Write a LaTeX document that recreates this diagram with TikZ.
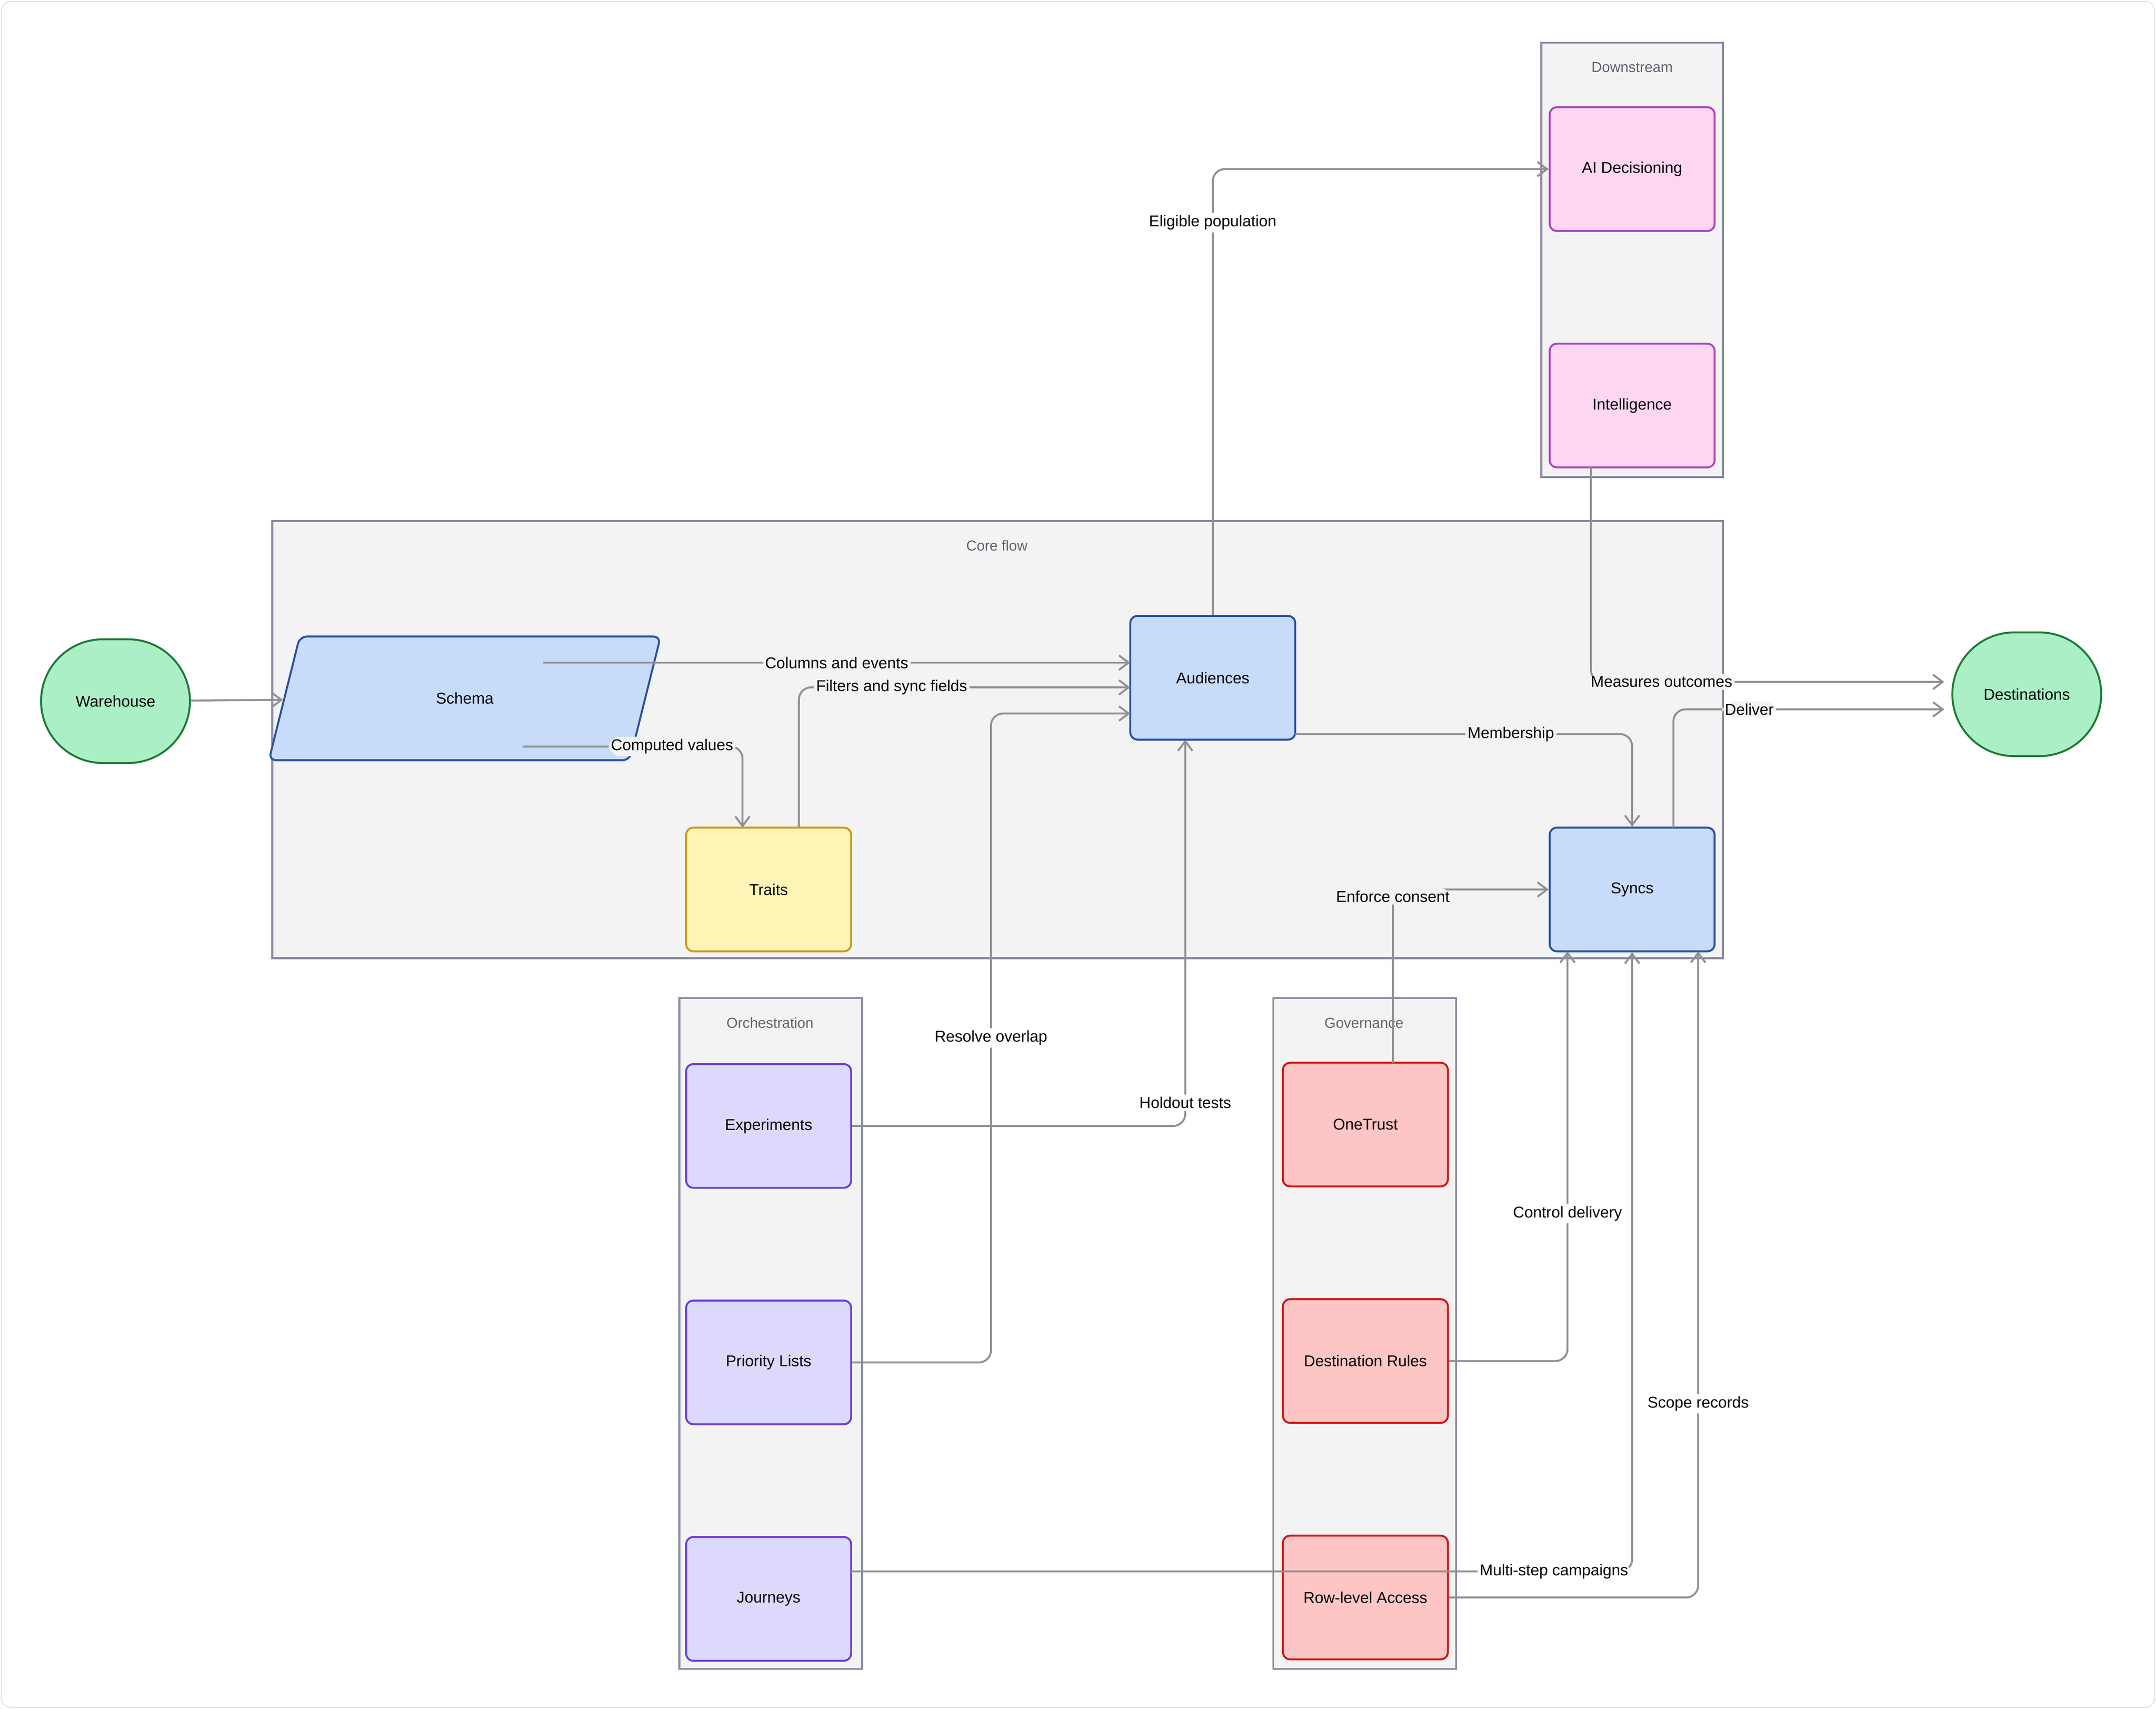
\documentclass[tikz,border=0pt]{standalone}
\usepackage{fontspec}
\setmainfont{Liberation Sans}
\usepackage{xcolor}
\definecolor{gr1}{HTML}{ABEFC6}
\definecolor{gr2}{HTML}{1E7A34}
\definecolor{bl1}{HTML}{C7DCFB}
\definecolor{bl2}{HTML}{2A4FA0}
\definecolor{ye1}{HTML}{FFF4B5}
\definecolor{ye2}{HTML}{C49A1A}
\definecolor{pk1}{HTML}{FDD7F1}
\definecolor{pk2}{HTML}{B044C0}
\definecolor{lv1}{HTML}{DDD9FC}
\definecolor{lv2}{HTML}{6B3FD8}
\definecolor{rd1}{HTML}{FEC5C5}
\definecolor{rd2}{HTML}{D01515}
\definecolor{cl1}{HTML}{F3F3F3}
\definecolor{cl2}{HTML}{8A8AA0}
\definecolor{ln1}{HTML}{909090}
\usetikzlibrary{shapes.geometric,arrows.meta,calc}

\tikzset{
  box/.style={draw,rounded corners=3pt,line width=0.8pt,minimum width=2.4cm,minimum height=1.8cm,font=\fontsize{6.5}{8}\selectfont},
  pill/.style={draw,rounded rectangle,line width=0.8pt,minimum width=2.4cm,minimum height=1.8cm,font=\fontsize{6.5}{8}\selectfont},
  cluster/.style={draw=cl2,fill=cl1,line width=0.8pt},
  ctitle/.style={text=cl2!70!black,font=\fontsize{6}{7}\selectfont},
  flow/.style={draw=ln1,line width=0.8pt,rounded corners=5pt,-{Straight Barb[length=4pt,width=6pt]}},
  lbl/.style={fill=white,inner sep=1pt,font=\fontsize{6.5}{8}\selectfont},
  lblc/.style={lbl,fill=cl1},
}
\usetikzlibrary{shapes.misc}

\begin{document}
\begin{tikzpicture}[x=0.02cm,y=-0.02cm]
  \useasboundingbox (0,0) rectangle (1568,1243);
  \draw[black!12,rounded corners=4pt] (1,1) rectangle (1567,1242);

  % clusters
  \draw[cluster] (198,379) rectangle (1253,697);
  \node[ctitle] at (725,397) {Core flow};
  \draw[cluster] (1121,31) rectangle (1253,347);
  \node[ctitle] at (1187,49) {Downstream};
  \draw[cluster] (494,726) rectangle (627,1214);
  \node[ctitle] at (560,744) {Orchestration};
  \draw[cluster] (926,726) rectangle (1059,1214);
  \node[ctitle] at (992,744) {Governance};

  % nodes
  \node[pill,fill=gr1,draw=gr2] (warehouse) at (84,510) {Warehouse};
  \node[pill,fill=gr1,draw=gr2] (dest) at (1474,505) {Destinations};
  \node[draw,trapezium,trapezium left angle=76,trapezium right angle=104,rounded corners=3pt,
        line width=0.8pt,fill=bl1,draw=bl2,minimum width=2.4cm,minimum height=1.8cm,
        font=\fontsize{6.5}{8}\selectfont] (schema) at (338,508) {Schema};
  \node[box,fill=bl1,draw=bl2] (audiences) at (882,493) {Audiences};
  \node[box,fill=ye1,draw=ye2] (traits) at (559,647) {Traits};
  \node[box,fill=bl1,draw=bl2] (syncs) at (1187,647) {Syncs};
  \node[box,fill=pk1,draw=pk2] (aidec) at (1187,123) {AI Decisioning};
  \node[box,fill=pk1,draw=pk2] (intel) at (1187,295) {Intelligence};
  \node[box,fill=lv1,draw=lv2] (exper) at (559,819) {Experiments};
  \node[box,fill=lv1,draw=lv2] (prio) at (559,991) {Priority Lists};
  \node[box,fill=lv1,draw=lv2] (journeys) at (559,1163) {Journeys};
  \node[box,fill=rd1,draw=rd2] (onetrust) at (993,818) {OneTrust};
  \node[box,fill=rd1,draw=rd2] (drules) at (993,990) {Destination Rules};
  \node[box,fill=rd1,draw=rd2] (rla) at (993,1162) {Row-level Access};

  % connectors
  \draw[flow] (warehouse) -- (schema);
  \draw[flow] ($(schema.center)+(57,-26)$) -- ($(audiences.center)+(-60,-11)$)
    node[lblc,pos=0.5] {Columns and events};
  \draw[flow] ($(schema.center)+(42,35)$) -| ($(traits.center)+(-19,-45)$)
    node[lblc,pos=0.34] {Computed values};
  \draw[flow] ($(traits.center)+(22,-45)$) |- ($(audiences.center)+(-60,7)$)
    node[lblc,pos=0.64] {Filters and sync fields};
  \draw[flow] (prio.east) -- ++(101,0) |- ($(audiences.center)+(-60,26)$)
    node[lbl,pos=0.25] {Resolve overlap};
  \draw[flow] (exper.east) -| ($(audiences.center)+(-20,45)$)
    node[lbl,pos=0.53] {Holdout tests};
  \draw[flow] (audiences.north) |- (aidec.west)
    node[lbl,pos=0.44] {Eligible population};
  \draw[flow] ($(intel.center)+(-30,45)$) |- ($(dest.center)+(-60,-9)$)
    node[lblc,pos=0.6] {Measures outcomes};
  \draw[flow] ($(syncs.center)+(30,-45)$) |- ($(dest.center)+(-60,11)$)
    node[lblc,pos=0.64] {Deliver};
  \draw[flow] ($(audiences.center)+(60,41)$) -| (syncs.north)
    node[lblc,pos=0.32] {Membership};
  \draw[flow] ($(onetrust.center)+(20,-45)$) |- (syncs.west)
    node[lblc,pos=0.48] {Enforce consent};
  \draw[flow] (drules.east) -| ($(syncs.center)+(-47,45)$)
    node[lbl,pos=0.68] {Control delivery};
  \draw[flow] ($(journeys.center)+(60,-20)$) -| (syncs.south)
    node[lbl,pos=0.45] {Multi-step campaigns};
  \draw[flow] (rla.east) -| ($(syncs.center)+(48,45)$)
    node[lbl,pos=0.65] {Scope records};
\end{tikzpicture}
\end{document}
